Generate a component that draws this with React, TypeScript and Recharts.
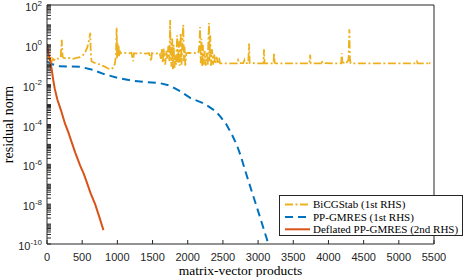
import React from "react";
import { LineChart, Line, XAxis, YAxis, Legend } from "recharts";

const X_TICKS = [0, 500, 1000, 1500, 2000, 2500, 3000, 3500, 4000, 4500, 5000, 5500];
const Y_LABEL_EXPONENTS = [-10, -8, -6, -4, -2, 0, 2];
const Y_DECADES = [-10, -9, -8, -7, -6, -5, -4, -3, -2, -1, 0, 1];
const MINOR_MULTIPLIERS = [1, 2, 3, 4, 5, 6, 7, 8, 9];

// [matrix-vector products, residual norm]
const bicgstab: [number, number][] = [
  [0, 0.9], [8, 0.45], [15, 0.2], [25, 0.3], [35, 0.16], [50, 0.25], [65, 0.14], [80, 0.2],
  [100, 0.17], [130, 0.22], [160, 0.2], [195, 0.24], [210, 1.8], [222, 0.25], [240, 0.22],
  [280, 0.2], [320, 0.22], [370, 0.2], [420, 0.22], [470, 0.24], [510, 0.3], [545, 0.45],
  [570, 0.7], [590, 1.3], [605, 2.5], [615, 4.0], [621, 0.5], [632, 0.15], [660, 0.13],
  [700, 0.12], [760, 0.1], [820, 0.08], [870, 0.065], [900, 0.058], [940, 0.07], [965, 0.11],
  [980, 0.3], [990, 7.1], [996, 0.2], [1003, 1.3], [1010, 0.3], [1018, 0.9], [1025, 0.25],
  [1035, 0.5], [1045, 0.38], [1100, 0.4], [1150, 0.36], [1200, 0.4], [1225, 0.15], [1235, 0.38],
  [1300, 0.35], [1350, 0.4], [1400, 0.36], [1450, 0.38], [1480, 0.15], [1490, 0.38], [1550, 0.36],
  [1600, 0.4], [1620, 0.2], [1630, 0.6], [1645, 0.12], [1655, 0.7], [1665, 0.3], [1680, 0.1],
  [1695, 0.5], [1710, 0.2], [1725, 0.9], [1740, 0.15], [1750, 17.8], [1758, 0.3], [1770, 0.08],
  [1780, 2.0], [1790, 0.06], [1800, 1.0], [1812, 0.07], [1822, 0.3], [1835, 0.1], [1850, 3.0],
  [1860, 0.12], [1875, 1.5], [1885, 0.09], [1900, 4.0], [1912, 0.1], [1925, 2.0], [1937, 10],
  [1945, 0.15], [1955, 0.8], [1965, 0.09], [1980, 0.38], [2020, 0.4], [2060, 0.38], [2100, 0.39],
  [2150, 0.38], [2165, 0.9], [2175, 7.9], [2185, 0.12], [2195, 2.0], [2205, 0.08], [2215, 1.0],
  [2225, 0.1], [2240, 0.5], [2255, 0.09], [2270, 0.4], [2285, 0.1], [2295, 2.5], [2303, 12.6],
  [2310, 0.15], [2320, 3.0], [2330, 0.09], [2345, 0.6], [2360, 0.1], [2375, 0.35], [2390, 0.11],
  [2410, 0.25], [2430, 0.11], [2445, 0.22], [2460, 0.117], [2700, 0.117], [2715, 0.17],
  [2730, 0.12], [2790, 0.12], [2805, 0.17], [2815, 0.12], [2860, 0.12], [2872, 1.17],
  [2880, 0.12], [3075, 0.117], [3084, 0.6], [3092, 0.117], [3220, 0.117], [3227, 0.41],
  [3235, 0.125], [3250, 0.117], [3730, 0.117], [3740, 0.32], [3748, 0.117], [3895, 0.117],
  [3905, 0.16], [3915, 0.12], [4180, 0.117], [4190, 0.38], [4198, 0.13], [4260, 0.117],
  [4270, 0.19], [4285, 0.15], [4297, 6.0], [4305, 0.19], [4315, 0.12], [4330, 0.117],
  [5250, 0.117], [5258, 0.14], [5266, 0.117], [5420, 0.117], [5430, 0.14], [5440, 0.12],
  [5450, 0.117],
];

const ppGmres: [number, number][] = [
  [0, 0.15], [50, 0.112], [185, 0.083], [470, 0.079], [650, 0.056], [800, 0.035], [1000, 0.022],
  [1200, 0.016], [1400, 0.0135], [1600, 0.012], [1750, 0.0089], [1900, 0.0045], [2040, 0.0021],
  [2200, 0.00126], [2300, 0.00079], [2400, 0.00045], [2464, 0.00025], [2550, 1e-4],
  [2631, 2.95e-5], [2700, 8.9e-6], [2749, 2.95e-6], [2844, 2.4e-7], [2900, 5.6e-8],
  [2963, 1.15e-8], [3040, 1.6e-9], [3120, 2e-10], [3150, 8.9e-11],
];

const deflated: [number, number][] = [
  [0, 1.12], [10, 0.63], [25, 0.32], [45, 0.16], [65, 0.063], [90, 0.016], [110, 0.0063],
  [147, 0.0018], [200, 5e-4], [256, 1.1e-4], [304, 4e-5], [342, 1.6e-5], [400, 4e-6],
  [470, 8.9e-7], [520, 3.5e-7], [555, 1.6e-7], [620, 3.5e-8], [684, 1e-8], [740, 2.5e-9],
  [802, 5e-10],
];

const toRows = (pts: [number, number][]) => pts.map(([x, r]) => ({ x, r }));

const yTicks: number[] = [];
Y_DECADES.forEach((e) => MINOR_MULTIPLIERS.forEach((m) => yTicks.push(Number(`${m}e${e}`))));
yTicks.push(1e2);
const yLabels = new Map(Y_LABEL_EXPONENTS.map((e) => [Number(`1e${e}`), e]));

const AXIS = "#262626";
const TICK_FONT = "'Liberation Sans', Arial, sans-serif";
const SERIF = "'Liberation Serif', 'Times New Roman', serif";

const YTick = (props: any) => {
  const { x, y, payload } = props;
  const exp = yLabels.get(payload.value);
  if (exp === undefined) return <g />;
  return (
    <text x={x} y={y} dy={6} textAnchor="end" fontFamily={TICK_FONT} fontSize={11} fill={AXIS}>
      10<tspan dy={-5.5} fontSize={8}>{exp}</tspan>
    </text>
  );
};

const YLabel = (props: any) => {
  const { x, y, height } = props.viewBox;
  const cx = x + 6;
  const cy = y + height / 2;
  return (
    <text x={cx} y={cy} transform={`rotate(-90 ${cx} ${cy})`} textAnchor="middle"
      fontFamily={SERIF} fontSize={14} fill="#000">
      residual norm
    </text>
  );
};

const series = [
  { name: "BiCGStab (1st RHS)", color: "#EDB120", dash: "8 2.5 2 2.5", width: 1.8, data: toRows(bicgstab) },
  { name: "PP-GMRES (1st RHS)", color: "#0072BD", dash: "8 5", width: 2, data: toRows(ppGmres) },
  { name: "Deflated PP-GMRES (2nd RHS)", color: "#D95319", dash: undefined, width: 2, data: toRows(deflated) },
];

const renderLegend = () => (
  <svg width={185} height={42}>
    <rect x={0.5} y={0.5} width={183} height={40} fill="#fff" stroke={AXIS} strokeWidth={1} />
    {series.map((s, i) => {
      const cy = 9.5 + i * 12.4;
      return (
        <g key={s.name}>
          <line x1={6} x2={31} y1={cy} y2={cy} stroke={s.color} strokeWidth={2} strokeDasharray={s.dash} />
          <text x={34} y={cy} dy="0.35em" fontFamily={SERIF} fontSize={11} fill="#000">{s.name}</text>
        </g>
      );
    })}
  </svg>
);

export default function App() {
  return (
    <div style={{ position: "absolute", left: 0, top: 0 }}>
      <LineChart width={466} height={277} margin={{ top: 4, right: 31, bottom: 3, left: 7 }}>
        <XAxis xAxisId="b" dataKey="x" type="number" domain={[0, 5500]} ticks={X_TICKS} interval={0}
          allowDataOverflow height={30} tickSize={-4} tickMargin={13.5}
          stroke={AXIS} tick={{ fill: AXIS, fontSize: 11, fontFamily: TICK_FONT }}
          label={{ value: "matrix-vector products", position: "insideBottom", offset: -0.5, fill: "#000",
            style: { fontFamily: SERIF, fontSize: 13.5 } }} />
        <XAxis xAxisId="t" orientation="top" type="number" domain={[0, 5500]} ticks={X_TICKS} interval={0}
          allowDataOverflow height={1} tickSize={-4} tick={false} stroke={AXIS} />
        <YAxis yAxisId="l" scale="log" type="number" domain={[1e-10, 100]} ticks={yTicks} interval={0}
          allowDataOverflow width={40} tickSize={-4} tickMargin={9} stroke={AXIS}
          tick={<YTick />} label={<YLabel />} />
        <YAxis yAxisId="r" orientation="right" scale="log" type="number" domain={[1e-10, 100]}
          ticks={yTicks} interval={0} allowDataOverflow width={1} tickSize={-4} tick={false} stroke={AXIS} />
        {series.map((s) => (
          <Line key={s.name} xAxisId="b" yAxisId="l" data={s.data} dataKey="r" name={s.name}
            type="linear" stroke={s.color} strokeWidth={s.width} strokeDasharray={s.dash}
            dot={false} activeDot={false} isAnimationActive={false} />
        ))}
        <Legend content={renderLegend} layout="vertical" align="center" verticalAlign="middle"
          width={185} height={42} wrapperStyle={{ left: 279, top: 195 }} />
      </LineChart>
    </div>
  );
}
